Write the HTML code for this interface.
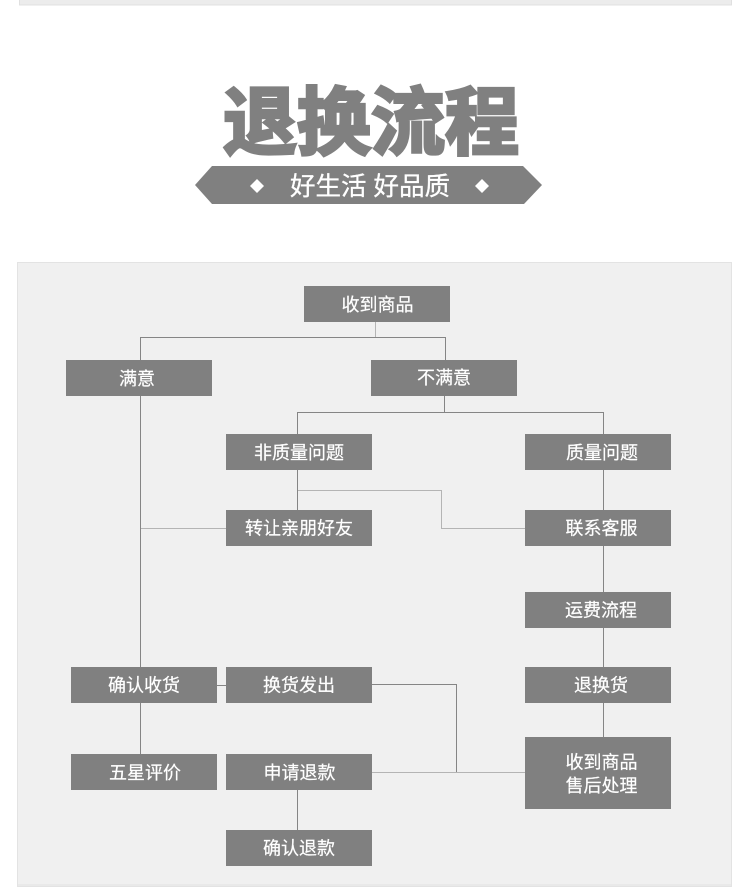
<!DOCTYPE html>
<html lang="zh">
<head>
<meta charset="utf-8">
<style>
html,body{margin:0;padding:0;background:#fff;width:750px;height:889px;overflow:hidden}
svg{display:block}
text{font-family:"Liberation Sans","Noto Sans CJK SC",sans-serif}
.b{fill:#808080}
.t{fill:#fff;stroke:#fff;stroke-width:.2;font-size:18px;text-anchor:middle}
.l{stroke:#858585;stroke-width:1;fill:none}
.m{stroke:#b4b4b4;stroke-width:1;fill:none}
</style>
</head>
<body>
<svg width="750" height="889" viewBox="0 0 750 889" xmlns="http://www.w3.org/2000/svg">
<rect x="19.5" y="-3" width="712" height="8" fill="#ececec" stroke="#e0e0e0"/>

<text transform="translate(371 148.5)" x="0" y="0" font-size="74" font-weight="700" text-anchor="middle" fill="#808080" stroke="#808080" stroke-width="3.2" style="paint-order:stroke">退换流程</text>

<polygon points="195,185 212,166 523,166 542,185 524,204 212,204" fill="#808080"/>
<polygon points="257,179 264,186 257,193 250,186" fill="#fff"/>
<polygon points="482,179 489,186 482,193 475,186" fill="#fff"/>
<text x="370" y="195" font-size="25.5" fill="#fff" stroke="#fff" stroke-width=".3" text-anchor="middle">好生活 好品质</text>

<rect x="17.5" y="262.5" width="714" height="624" fill="#f0f0f0" stroke="#e3e3e3"/>
<rect x="18" y="884" width="713" height="2" fill="#e9e9e9"/>

<path class="l" d="M140.5 360V337.5H445.5V360"/>
<path class="m" d="M375.5 322V337"/>
<path class="l" d="M140.5 396V667"/>
<path class="l" d="M140.5 703V754"/>
<path class="l" d="M444.5 396V412"/>
<path class="l" d="M297.5 434V412.5H603.5V434"/>
<path class="l" d="M603.5 470V510"/>
<path class="l" d="M297.5 470V510"/>
<path class="m" d="M298 490.5H441.5V528.5H525" stroke-width="1.4"/>
<path class="m" d="M141 528.5H226"/>
<path class="l" d="M603.5 546V592"/>
<path class="l" d="M603.5 628V667"/>
<path class="l" d="M603.5 703V737"/>
<path class="l" d="M217 685.5H226"/>
<path class="l" d="M372 684.5H456.5V772"/>
<path class="m" d="M372 772.5H525" stroke-width="1.4"/>
<path class="l" d="M297.5 790V830"/>

<rect class="b" x="304" y="286" width="146" height="36"/>
<rect class="b" x="66" y="360" width="146" height="36"/>
<rect class="b" x="371" y="360" width="146" height="36"/>
<rect class="b" x="226" y="434" width="146" height="36"/>
<rect class="b" x="525" y="434" width="146" height="36"/>
<rect class="b" x="226" y="510" width="146" height="36"/>
<rect class="b" x="525" y="510" width="146" height="36"/>
<rect class="b" x="525" y="592" width="146" height="36"/>
<rect class="b" x="525" y="667" width="146" height="36"/>
<rect class="b" x="525" y="737" width="146" height="72"/>
<rect class="b" x="71" y="667" width="146" height="36"/>
<rect class="b" x="226" y="667" width="146" height="36"/>
<rect class="b" x="71" y="754" width="146" height="36"/>
<rect class="b" x="226" y="754" width="146" height="36"/>
<rect class="b" x="226" y="830" width="146" height="36"/>

<text class="t" x="377.5" y="311">收到商品</text>
<text class="t" x="137" y="385">满意</text>
<text class="t" x="444" y="384">不满意</text>
<text class="t" x="299" y="459">非质量问题</text>
<text class="t" x="602" y="459">质量问题</text>
<text class="t" x="299" y="534.5">转让亲朋好友</text>
<text class="t" x="601.5" y="534.5">联系客服</text>
<text class="t" x="601" y="616.5">运费流程</text>
<text class="t" x="601" y="691.5">退换货</text>
<text class="t" x="601.5" y="768.5">收到商品</text>
<text class="t" x="601.5" y="792">售后处理</text>
<text class="t" x="144" y="691.5">确认收货</text>
<text class="t" x="299" y="691.5">换货发出</text>
<text class="t" x="145" y="779">五星评价</text>
<text class="t" x="299.5" y="779">申请退款</text>
<text class="t" x="299" y="854.5">确认退款</text>
</svg>
</body>
</html>
